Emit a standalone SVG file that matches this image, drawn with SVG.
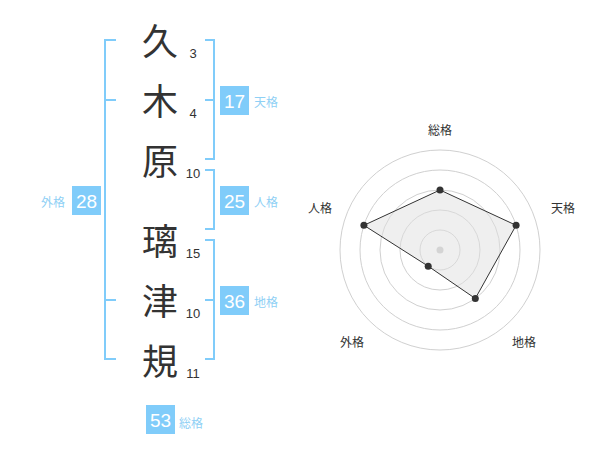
<svg xmlns="http://www.w3.org/2000/svg" width="600" height="470" viewBox="0 0 600 470">
<style>
.ch{font-family:"Noto Sans CJK JP","Noto Sans CJK SC",sans-serif;font-size:36px;fill:#333;text-anchor:middle}
.st{font-family:"Liberation Sans",Arial,sans-serif;font-size:13px;fill:#333;text-anchor:middle}
.br{fill:none;stroke:#80ccfa;stroke-width:2}
.box{fill:#80ccfa}
.bn{font-family:"Liberation Sans",Arial,sans-serif;font-size:19px;fill:#fff;text-anchor:middle}
.lb{font-family:"Noto Sans CJK JP","Noto Sans CJK SC",sans-serif;font-size:12px;fill:#8fd0f5}
.ring{fill:none;stroke:#d0d0d0;stroke-width:1}
.rl{font-family:"Noto Sans CJK JP","Noto Sans CJK SC",sans-serif;font-size:12px;fill:#333;text-anchor:middle}
</style>
<rect width="600" height="470" fill="#fff"/>
<g id="chars">
<text class="ch" x="160" y="55">久</text><text class="st" x="193" y="57.5">3</text>
<text class="ch" x="160" y="115">木</text><text class="st" x="193" y="117.5">4</text>
<text class="ch" x="160" y="175">原</text><text class="st" x="193" y="177.5">10</text>
<text class="ch" x="160" y="255">璃</text><text class="st" x="193" y="257.5">15</text>
<text class="ch" x="160" y="315">津</text><text class="st" x="193" y="317.5">10</text>
<text class="ch" x="160" y="375">規</text><text class="st" x="193" y="377.5">11</text>
</g>
<g id="connectors">
<path class="br" d="M116,40H105V359H116M105,100H116M105,300H116"/>
<path class="br" d="M205,40H214V159H205M205,100H214"/>
<path class="br" d="M205,170H214V229H205"/>
<path class="br" d="M205,240H214V359H205M205,300H214"/>
</g>
<g id="tenkaku"><rect class="box" x="220" y="86" width="29" height="29"/><text class="bn" x="234.5" y="107.5">17</text><text class="lb" x="254" y="107">天格</text></g>
<g id="jinkaku"><rect class="box" x="220" y="186" width="29" height="29"/><text class="bn" x="234.5" y="207.5">25</text><text class="lb" x="254" y="207">人格</text></g>
<g id="chikaku"><rect class="box" x="220" y="286" width="29" height="29"/><text class="bn" x="234.5" y="307.5">36</text><text class="lb" x="254" y="307">地格</text></g>
<g id="gaikaku"><rect class="box" x="72" y="186" width="29" height="29"/><text class="bn" x="86.5" y="207.5">28</text><text class="lb" x="41" y="207">外格</text></g>
<g id="soukaku"><rect class="box" x="146" y="405" width="29" height="29"/><text class="bn" x="160.5" y="426.5">53</text><text class="lb" x="179" y="428">総格</text></g>
<g id="radar">
<circle class="ring" cx="440" cy="250" r="20"/>
<circle class="ring" cx="440" cy="250" r="40"/>
<circle class="ring" cx="440" cy="250" r="60"/>
<circle class="ring" cx="440" cy="250" r="80"/>
<circle class="ring" cx="440" cy="250" r="100"/>
<circle cx="440" cy="250" r="3.5" fill="#c8c8c8"/>
<polygon points="440,190 516.1,225.3 475.3,298.5 428.2,266.2 363.9,225.3" fill="#e0e0e0" fill-opacity="0.5" stroke="#333" stroke-width="1"/>
<g fill="#333">
<circle cx="440" cy="190" r="3.5"/><circle cx="516.1" cy="225.3" r="3.5"/><circle cx="475.3" cy="298.5" r="3.5"/><circle cx="428.2" cy="266.2" r="3.5"/><circle cx="363.9" cy="225.3" r="3.5"/>
</g>
<text class="rl" x="440" y="135">総格</text>
<text class="rl" x="563" y="213">天格</text>
<text class="rl" x="524" y="347">地格</text>
<text class="rl" x="352" y="347">外格</text>
<text class="rl" x="320" y="213">人格</text>
</g>
</svg>
